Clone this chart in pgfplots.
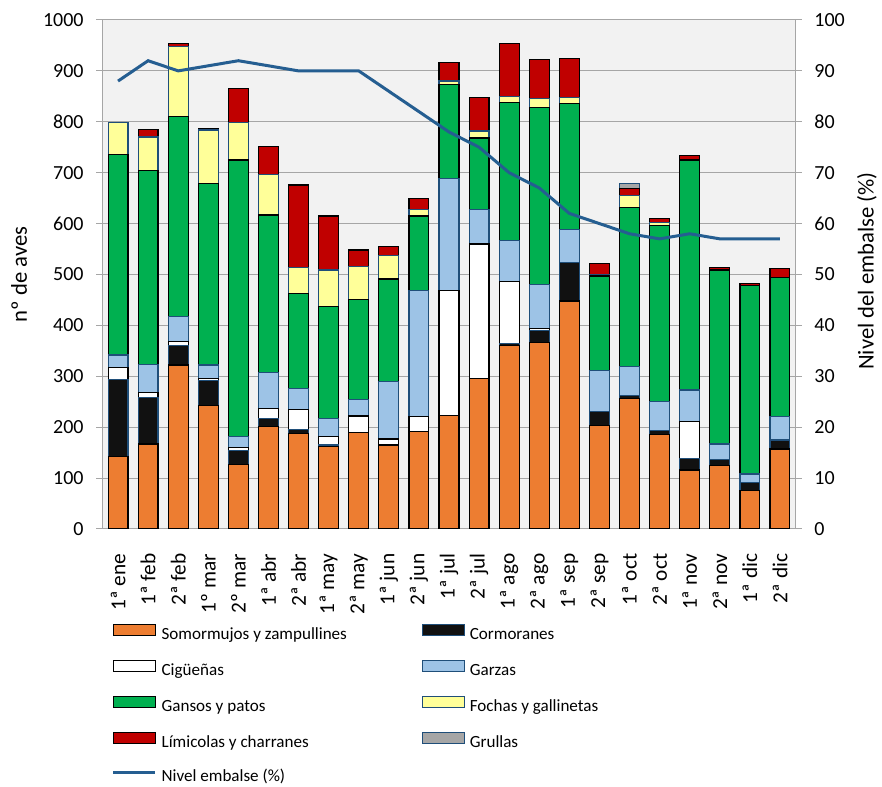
\documentclass[border=0pt]{standalone}
\usepackage{fontspec}
\setmainfont{Carlito}
\usepackage{pgfplots}
\usepackage{pgfplotstable}
\pgfplotsset{compat=1.18}

\definecolor{cOrange}{HTML}{ED7D31}
\definecolor{cBlack}{HTML}{111111}
\definecolor{cBlue}{HTML}{9DC3E6}
\definecolor{cGreen}{HTML}{00B050}
\definecolor{cYellow}{HTML}{FFFF99}
\definecolor{cRed}{HTML}{C00000}
\definecolor{cGrey}{HTML}{A6A6A6}
\definecolor{cEdge}{HTML}{1F4E79}
\definecolor{cLine}{HTML}{255E91}
\definecolor{cGrid}{HTML}{A6A6A6}
\definecolor{cBack}{HTML}{F2F2F2}

\pgfplotstableread{
x  som  corm cig  garz gans foch lim grul nivel
0  142  151  24   25   394  62   0   0    88
1  167  91   10   55   382  65   15  0    92
2  322  38   8    50   393  137  6   0    90
3  242  49   5    26   357  105  2   0    91
4  127  27   6    21   544  74   67  0    92
5  202  15   19   72   309  80   54  0    91
6  188  8    39   41   186  51   163 0    90
7  162  3    16   36   220  72   106 0    90
8  189  0    33   33   196  64   33  0    90
9  165  0    12   112  202  47   17  0    86
10 191  0    30   247  147  12   23  0    82
11 223  0    245  221  185  6    37  0    78
12 296  0    264  67   141  14   66  0    75
13 361  4    121  80   272  11   105 0    70
14 367  23   4    87   347  17   78  0    67
15 448  76   0    65   247  12   77  0    62
16 203  28   0    81   185  2    23  0    60
17 257  6    0    56   312  24   14  10   58
18 185  9    0    57   346  5    8   0    57
19 116  23   72   62   452  1    7   0    58
20 124  12   0    31   342  0    4   0    57
21 75   17   0    16   371  0    4   0    57
22 157  18   0    46   273  0    18  0    57
}\data

\pgfplotsset{
  barleg/.style={legend image code/.code={\draw[##1] (0pt,-0.5pt) rectangle (31.5pt,7.8pt);}},
  lineleg/.style={legend image code/.code={\draw[##1] (0pt,3.5pt) -- (31.5pt,3.5pt);}},
  commonax/.style={
    scale only axis, width=519pt, height=381.75pt,
    at={(0pt,0pt)}, anchor=south west,
    xmin=-0.5, xmax=22.5,
    /pgf/number format/assume math mode=true,
    /pgf/number format/1000 sep={},
    tick label style={font=\fontsize{15}{18}\selectfont, text=black},
    tick align=outside,
    major tick length=5pt,
    tick style={color=cGrid, line width=0.75pt},
    axis line style={color=cGrid, line width=0.75pt},
  },
}

\begin{document}
\begin{tikzpicture}
\path[use as bounding box] (-77.25pt,-193.5pt) rectangle (584.25pt,396.75pt);
\begin{axis}[
  commonax,
  ybar stacked, bar width=0.66,
  ymin=0, ymax=1000, ytick={0,100,...,1000},
  yticklabel shift=6pt,
  xtick={0,...,22},
  xticklabels={1ª ene,1ª feb,2ª feb,1º mar,2º mar,1ª abr,2ª abr,1ª may,2ª may,1ª jun,2ª jun,1ª jul,2ª jul,1ª ago,2ª ago,1ª sep,2ª sep,1ª oct,2ª oct,1ª nov,2ª nov,1ª dic,2ª dic},
  x tick label style={rotate=90, anchor=east, font=\fontsize{16}{19}\selectfont},
  xtick style={draw=none},
  minor xtick={-0.5,0.5,...,22.5},
  minor tick length=5pt,
  minor x tick style={color=cGrid, line width=0.75pt},
  xticklabel shift=10pt,
  ymajorgrids,
  major grid style={color=cGrid, line width=0.75pt},
  axis background/.style={fill=cBack},
  ylabel={nº de aves},
  ylabel style={at={(axis description cs:-0.1214,0.5)}, anchor=center, font=\fontsize{17}{20}\selectfont},
  legend columns=2,
  legend cell align=left,
  legend style={at={(0.0125,-0.186)}, anchor=north west, draw=none, fill=none,
    inner sep=0pt, outer sep=0pt, row sep=12pt,
    font=\fontsize{12.8}{15}\selectfont,
    nodes={inner sep=0pt, text height=10pt, text depth=3.5pt},
    /tikz/every odd column/.append style={column sep=3.75pt},
    /tikz/every even column/.append style={column sep=56pt}},
]
\addplot[fill=cOrange, draw=black, line width=0.9pt, barleg] table[x=x,y=som] {\data};
\addlegendentry{Somormujos y zampullines}
\addplot[fill=cBlack, draw=cEdge, line width=0.9pt, barleg] table[x=x,y=corm] {\data};
\addlegendentry{Cormoranes}
\addplot[fill=white, draw=black, line width=0.9pt, barleg] table[x=x,y=cig] {\data};
\addlegendentry{Cigüeñas}
\addplot[fill=cBlue, draw=cEdge, line width=0.9pt, barleg] table[x=x,y=garz] {\data};
\addlegendentry{Garzas}
\addplot[fill=cGreen, draw=black, line width=0.9pt, barleg] table[x=x,y=gans] {\data};
\addlegendentry{Gansos y patos}
\addplot[fill=cYellow, draw=cEdge, line width=0.9pt, barleg] table[x=x,y=foch] {\data};
\addlegendentry{Fochas y gallinetas}
\addplot[fill=cRed, draw=black, line width=0.9pt, barleg] table[x=x,y=lim] {\data};
\addlegendentry{Límicolas y charranes}
\addplot[fill=cGrey, draw=cEdge, line width=0.9pt, barleg] table[x=x,y=grul] {\data};
\addlegendentry{Grullas}
\addlegendimage{color=cLine, line width=2.25pt, lineleg}
\addlegendentry{Nivel embalse (\%)}
\end{axis}
\begin{axis}[
  commonax,
  ymin=0, ymax=100, ytick={0,10,...,100},
  yticklabel shift=6pt,
  axis y line*=right, axis x line=none,
  ylabel={Nivel del embalse (\%)},
  ylabel style={at={(axis description cs:1.104,0.507)}, anchor=center, rotate=0, font=\fontsize{17}{20}\selectfont},
]
\addplot[color=cLine, line width=2.25pt, mark=none] table[x=x,y=nivel] {\data};
\end{axis}
\end{tikzpicture}
\end{document}
